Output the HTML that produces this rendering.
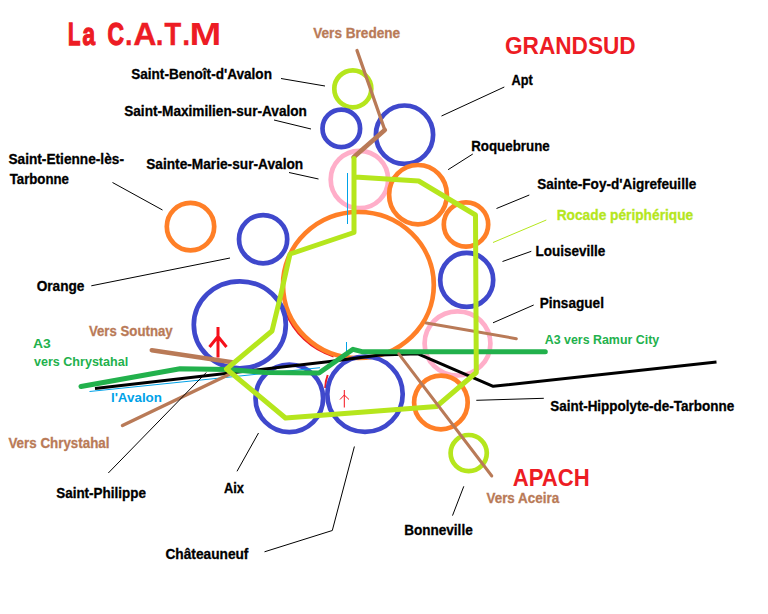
<!DOCTYPE html>
<html lang="fr">
<head>
<meta charset="utf-8">
<title>La C.A.T.M</title>
<style>
html,body{margin:0;padding:0;background:#fff;}
body{width:768px;height:614px;overflow:hidden;}
svg{display:block;}
text{font-family:"Liberation Sans",sans-serif;font-weight:bold;}
.k{fill:#000;stroke:#000;stroke-width:0.3px;}
.br{fill:#b97a57;stroke:#b97a57;stroke-width:0.3px;}
.gn{fill:#22b14c;}
.lm{fill:#b5e61d;stroke:#b5e61d;stroke-width:0.3px;}
.bl{fill:#00a2e8;}
.rd{fill:#ed1c24;}
.ld{stroke:#000;stroke-width:1;fill:none;}
.c{fill:none;stroke-width:4.7;}
.o{stroke:#ff7f27;}
.b{stroke:#3f48cc;}
.p{stroke:#ffaec9;}
.g{stroke:#b5e61d;}
</style>
</head>
<body>
<svg width="768" height="614" viewBox="0 0 768 614">
<rect width="768" height="614" fill="#fff"/>


<!-- circles -->
<g id="circles">
<circle class="c g" cx="352.8" cy="88.8" r="18.5"/>
<circle class="c b" cx="341.3" cy="128.4" r="18.8"/>
<ellipse class="c b" cx="404.5" cy="134.7" rx="28.6" ry="29.2"/>
<circle class="c p" cx="359.4" cy="179.5" r="28.7"/>
<ellipse class="c o" cx="418" cy="194.7" rx="28.9" ry="29.7"/>
<circle class="c o" cx="466" cy="224.5" r="22.2"/>
<ellipse class="c b" cx="466.7" cy="279.9" rx="26.5" ry="27"/>
<ellipse class="c p" cx="457.5" cy="343.4" rx="32.9" ry="32.1"/>
<path d="M286.3 311.1 A75.4 73 0 0 0 333.9 355.5" stroke="#ed1c24" stroke-width="4" fill="none"/>
<ellipse class="c o" cx="358.4" cy="285" rx="75.4" ry="73"/>
<circle class="c o" cx="190.5" cy="226.6" r="23.7"/>
<circle class="c b" cx="263.1" cy="239.2" r="24.1"/>
<ellipse class="c b" cx="239.8" cy="324.8" rx="46" ry="43.5"/>
<circle class="c b" cx="289.3" cy="398.3" r="33.8"/>
<path d="M327.7 375 Q325.3 381 325.2 388" stroke="#ed1c24" stroke-width="2" fill="none"/>
<circle class="c b" cx="365" cy="394.2" r="37.7"/>
<circle class="c o" cx="440.9" cy="402.5" r="26.8"/>
<circle class="c g" cx="468.7" cy="453.1" r="18.1"/>
</g>

<!-- thin blue river -->
<g stroke="#00a2e8" stroke-width="1" fill="none">
<path d="M89.5 391.5 L320 367.7"/>
<path d="M347.5 173 L347.5 224"/>
<path d="M346.5 342 L346.5 352"/>
</g>

<!-- black line -->
<path d="M95 388.5 L330 361.5 L380 355 L418 353.8 L493.2 386.3 L716.5 362" stroke="#000" stroke-width="3" fill="none" stroke-linejoin="round"/>

<!-- brown roads -->
<g stroke="#b97a57" fill="none" stroke-linecap="round" stroke-linejoin="round">
<path d="M357 50.5 L384.8 130" stroke-width="3.3"/>
<path d="M384.8 130 L353.6 157.2" stroke-width="4.6"/>
<path d="M151.8 350.2 L232 362.3" stroke-width="4.6"/>
<path d="M122.5 425.5 L230 374" stroke-width="3.5"/>
<path d="M426.3 323 L516.3 338.7" stroke-width="3"/>
</g>

<!-- A3 -->
<path d="M81 386.5 L180 368.7 L228 369.5 L265 372.5 L319 373 L353 349.3 L362 351.7 L545.3 351.7" stroke="#22b14c" stroke-width="5" fill="none" stroke-linejoin="round" stroke-linecap="round"/>

<!-- rocade -->
<path d="M355 177 L418.7 181 L475.5 215 L476.3 372.5 L436.5 406.5 L285.5 418 L226.5 369 L272 331 L281 294 L290 254 L354 232.5 L354 158.5" stroke="#b5e61d" stroke-width="5" fill="none" stroke-linejoin="round" stroke-linecap="round"/>

<path d="M398.8 353.8 L491.8 476" stroke="#b97a57" stroke-width="3" fill="none" stroke-linecap="round"/>

<!-- red arrows -->
<g stroke="#f5101a" fill="none" stroke-linecap="butt">
<path d="M218 327 L218 357.5 M218 336.5 L209.5 347 M218 336.5 L226.5 347" stroke-width="3"/>
<path d="M344.3 390 L344.3 407.5 M344.3 395 L340 399.5 M344.3 395 L349 399.5" stroke-width="1"/>
</g>

<!-- leader lines -->
<g class="ld">
<path d="M281 78.5 L325 86"/>
<path d="M274 120 L311 129"/>
<path d="M289 172.5 L318.5 179"/>
<path d="M112.5 182.5 L162.5 210"/>
<path d="M91.3 285.8 L230 258"/>
<path d="M441.5 116 L504.3 87"/>
<path d="M448.1 169.7 L472.8 154"/>
<path d="M496.5 208.5 L529.3 195"/>
<path d="M502.5 261.5 L531.3 251.3"/>
<path d="M493 322.8 L533.7 305"/>
<path d="M476.3 400.3 L543.8 398.3"/>
<path d="M463.8 486.3 L452.5 515.6"/>
<path d="M108.3 473 L206.3 372.5"/>
<path d="M237 471.3 L258.5 433"/>
<path d="M264.5 551.8 L332.3 530.5 L354.4 446.5"/>
</g>
<path d="M493 242.5 L546.3 220" stroke="#b5e61d" stroke-width="1" fill="none"/>


<g id="labels">
<text class="rd" y="44.8" font-size="31.5"><tspan x="67.95" textLength="12.35" lengthAdjust="spacingAndGlyphs" stroke="#ed1c24" stroke-width="1.5">L</tspan><tspan x="82.45" textLength="12.55" lengthAdjust="spacingAndGlyphs" stroke="#ed1c24" stroke-width="1.3">a</tspan> <tspan x="107.45" textLength="16.45" lengthAdjust="spacingAndGlyphs" stroke="#ed1c24" stroke-width="1.3">C</tspan><tspan x="125.05" textLength="7.50" lengthAdjust="spacingAndGlyphs" stroke="#ed1c24" stroke-width="0.3">.</tspan><tspan x="133.35" textLength="23.22" lengthAdjust="spacingAndGlyphs" stroke="#ed1c24" stroke-width="0.3">A</tspan><tspan x="155.85" textLength="7.70" lengthAdjust="spacingAndGlyphs" stroke="#ed1c24" stroke-width="0.3">.</tspan><tspan x="164.45" textLength="16.65" lengthAdjust="spacingAndGlyphs" stroke="#ed1c24" stroke-width="0.5">T</tspan><tspan x="182.20" textLength="7.90" lengthAdjust="spacingAndGlyphs" stroke="#ed1c24" stroke-width="0.3">.</tspan><tspan x="189.50" textLength="31.82" lengthAdjust="spacingAndGlyphs" stroke="#ed1c24" stroke-width="0">M</tspan></text>
<text class="k" x="131.20" y="79" font-size="14.4" textLength="140.75" lengthAdjust="spacingAndGlyphs">Saint-Benoît-d'Avalon</text>
<text class="k" x="124.20" y="116" font-size="14.4" textLength="182.75" lengthAdjust="spacingAndGlyphs">Saint-Maximilien-sur-Avalon</text>
<text class="k" x="146.20" y="169" font-size="14.4" textLength="157.00" lengthAdjust="spacingAndGlyphs">Sainte-Marie-sur-Avalon</text>
<text class="k" x="8.45" y="164" font-size="14.4" textLength="115.50" lengthAdjust="spacingAndGlyphs">Saint-Etienne-lès-</text>
<text class="k" x="9.70" y="184" font-size="14.4" textLength="59.25" lengthAdjust="spacingAndGlyphs">Tarbonne</text>
<text class="k" x="36.70" y="291" font-size="14.4" textLength="47.75" lengthAdjust="spacingAndGlyphs">Orange</text>
<text class="k" x="511.45" y="85" font-size="14.4" textLength="21.25" lengthAdjust="spacingAndGlyphs">Apt</text>
<text class="k" x="471.20" y="151" font-size="14.4" textLength="78.50" lengthAdjust="spacingAndGlyphs">Roquebrune</text>
<text class="k" x="537.20" y="189" font-size="14.4" textLength="159.00" lengthAdjust="spacingAndGlyphs">Sainte-Foy-d'Aigrefeuille</text>
<text class="k" x="535.45" y="256" font-size="14.4" textLength="69.75" lengthAdjust="spacingAndGlyphs">Louiseville</text>
<text class="k" x="539.70" y="308" font-size="14.4" textLength="64.25" lengthAdjust="spacingAndGlyphs">Pinsaguel</text>
<text class="k" x="550.20" y="411" font-size="14.4" textLength="184.00" lengthAdjust="spacingAndGlyphs">Saint-Hippolyte-de-Tarbonne</text>
<text class="k" x="404.20" y="535" font-size="14.4" textLength="68.50" lengthAdjust="spacingAndGlyphs">Bonneville</text>
<text class="k" x="56.20" y="498" font-size="14.4" textLength="89.75" lengthAdjust="spacingAndGlyphs">Saint-Philippe</text>
<text class="k" x="223.95" y="493" font-size="14.4" textLength="20.00" lengthAdjust="spacingAndGlyphs">Aix</text>
<text class="k" x="165.45" y="559" font-size="14.4" textLength="83.00" lengthAdjust="spacingAndGlyphs">Châteauneuf</text>
<text class="lm" x="556.70" y="220" font-size="14.4" textLength="136.50" lengthAdjust="spacingAndGlyphs">Rocade périphérique</text>
<text class="br" x="313.20" y="38" font-size="14.4" textLength="87.00" lengthAdjust="spacingAndGlyphs">Vers Bredene</text>
<text class="br" x="88.95" y="336" font-size="14.4" textLength="83.75" lengthAdjust="spacingAndGlyphs">Vers Soutnay</text>
<text class="br" x="8.45" y="448" font-size="14.4" textLength="101.00" lengthAdjust="spacingAndGlyphs">Vers Chrystahal</text>
<text class="br" x="486.45" y="503" font-size="14.4" textLength="72.75" lengthAdjust="spacingAndGlyphs">Vers Aceira</text>
<text class="gn" x="32.95" y="348" font-size="13.1" textLength="17.75" lengthAdjust="spacingAndGlyphs">A3</text>
<text class="gn" x="33.95" y="366" font-size="13.1" textLength="94.25" lengthAdjust="spacingAndGlyphs">vers Chrystahal</text>
<text class="gn" x="544.70" y="344" font-size="13.1" textLength="114.50" lengthAdjust="spacingAndGlyphs">A3 vers Ramur City</text>
<text class="bl" x="110.95" y="402" font-size="13.1" textLength="51.00" lengthAdjust="spacingAndGlyphs">l'Avalon</text>
<text class="rd" x="504.95" y="53.5" font-size="23.1" textLength="130.75" lengthAdjust="spacingAndGlyphs">GRANDSUD</text>
<text class="rd" x="512.70" y="485.8" font-size="23.2" textLength="77.00" lengthAdjust="spacingAndGlyphs">APACH</text>
</g>
</svg>
</body>
</html>
